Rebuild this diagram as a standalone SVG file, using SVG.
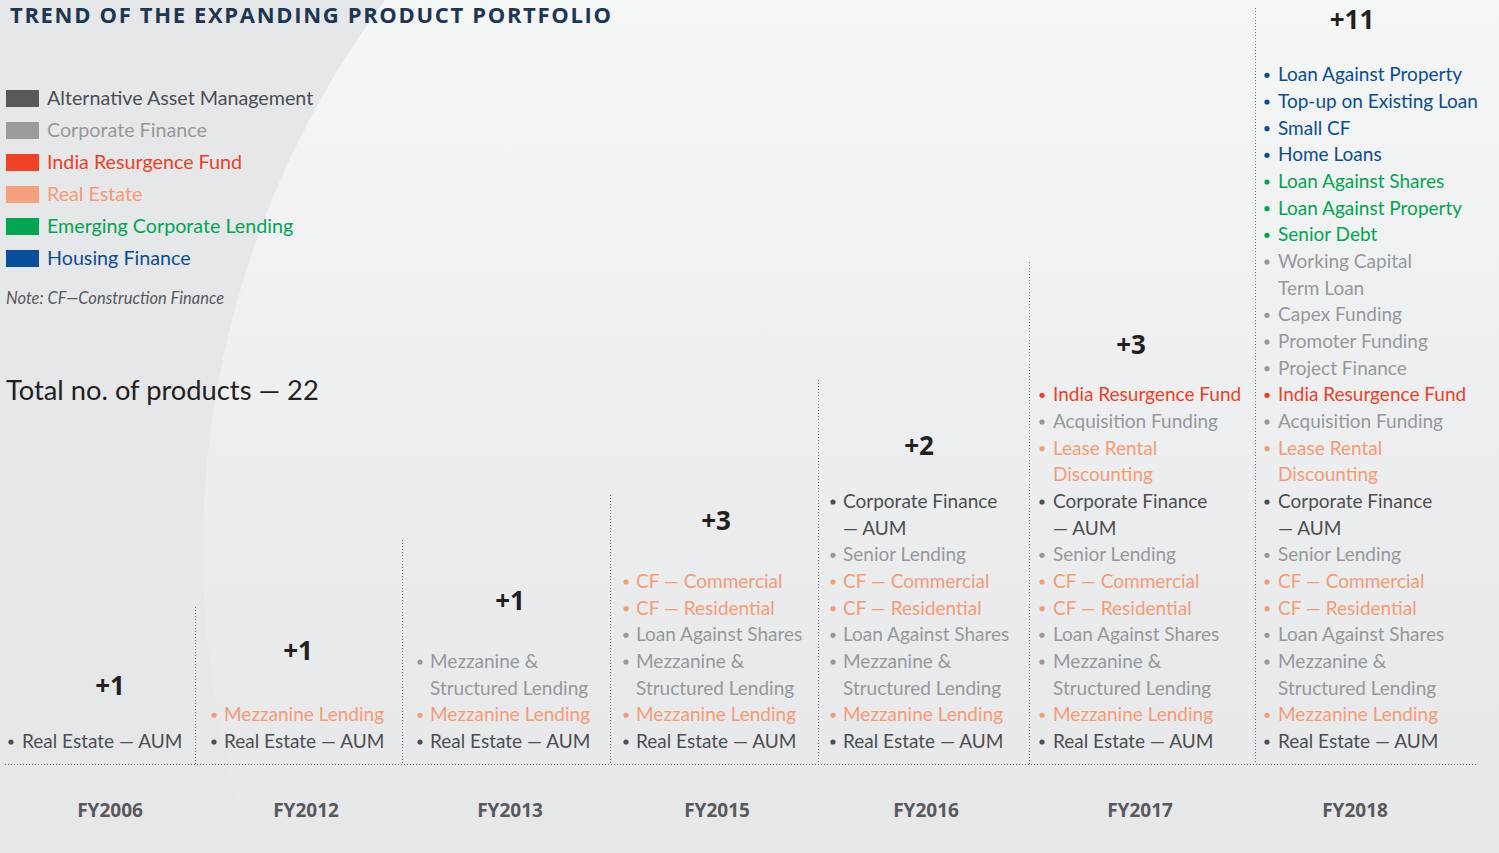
<svg xmlns="http://www.w3.org/2000/svg" width="1499" height="853" viewBox="0 0 1499 853">
<defs>
<linearGradient id="glow" x1="0" y1="0" x2="0" y2="1">
<stop offset="0" stop-color="#f5f6f6"/>
<stop offset="0.45" stop-color="#eeeff0"/>
<stop offset="0.85" stop-color="#e8e9eb"/>
<stop offset="1" stop-color="#e6e7e9"/>
</linearGradient>
<style>
.t{font-family:Lato,"Open Sans","Liberation Sans",sans-serif;font-size:19px}
.lg{font-size:19.7px}
.dk{fill:#4d4e50}.gy{fill:#97989b}.sa{fill:#f79b75}.rd{fill:#ee3f24}.gn{fill:#00a650}.bl{fill:#0b4c97}
.plus{font-family:"Open Sans","Liberation Sans",sans-serif;font-weight:700;font-size:26px;fill:#231f20;text-anchor:middle}
.fy{font-family:"Open Sans","Liberation Sans",sans-serif;font-weight:700;font-size:19px;fill:#58595b;text-anchor:middle}
.div{stroke:#6d6e70;stroke-width:1;stroke-dasharray:1 2;fill:none}
</style>
</defs>
<rect width="1499" height="853" fill="#e6e7e9"/>
<path d="M385 0 A922 922 0 0 0 254 853 L1499 853 L1499 0 Z" fill="url(#glow)"/>

<text x="10" y="23" textLength="603" lengthAdjust="spacing" style="font-family:'Open Sans','Liberation Sans',sans-serif;font-weight:700;font-size:22px;fill:#1d3652;letter-spacing:2px">TREND OF THE EXPANDING PRODUCT PORTFOLIO</text>

<g id="legend">
<rect x="6" y="90" width="33" height="17" fill="#58595b"/>
<text class="t lg dk" x="47" y="105">Alternative Asset Management</text>
<rect x="6" y="122" width="33" height="17" fill="#9a9b9d"/>
<text class="t lg gy" x="47" y="137">Corporate Finance</text>
<rect x="6" y="154" width="33" height="17" fill="#ef4123"/>
<text class="t lg rd" x="47" y="169">India Resurgence Fund</text>
<rect x="6" y="186" width="33" height="17" fill="#f7a07e"/>
<text class="t lg sa" x="47" y="201">Real Estate</text>
<rect x="6" y="218" width="33" height="17" fill="#00a651"/>
<text class="t lg gn" x="47" y="233">Emerging Corporate Lending</text>
<rect x="6" y="250" width="33" height="17" fill="#0a4f9c"/>
<text class="t lg bl" x="47" y="265">Housing Finance</text>
<text x="6" y="304" style="font-family:Lato,'Open Sans',sans-serif;font-style:italic;font-size:16.5px;fill:#58595b">Note: CF—Construction Finance</text>
</g>

<text x="6" y="400" style="font-family:Lato,'Open Sans',sans-serif;font-size:27.3px;fill:#231f20">Total no. of products — 22</text>

<g id="connectors">
<line class="div" x1="5" y1="764.5" x2="1478" y2="764.5"/>
<line class="div" x1="195.5" y1="607" x2="195.5" y2="764"/>
<line class="div" x1="402.5" y1="540" x2="402.5" y2="764"/>
<line class="div" x1="610.5" y1="495" x2="610.5" y2="764"/>
<line class="div" x1="818.5" y1="380" x2="818.5" y2="764"/>
<line class="div" x1="1029.5" y1="262" x2="1029.5" y2="764"/>
<line class="div" x1="1255.5" y1="8" x2="1255.5" y2="764"/>
</g>

<g id="fy2006">
<text class="plus" x="110" y="695">+1</text>
<circle class="dk" cx="11" cy="742" r="2.6"/><text class="t dk" x="22" y="748">Real Estate — AUM</text>
<text class="fy" x="110" y="817">FY2006</text>
</g>

<g id="fy2012">
<text class="plus" x="298" y="660">+1</text>
<circle class="sa" cx="214" cy="715.3" r="2.6"/><text class="t sa" x="224" y="721.3">Mezzanine Lending</text>
<circle class="dk" cx="214" cy="742" r="2.6"/><text class="t dk" x="224" y="748">Real Estate — AUM</text>
<text class="fy" x="306" y="817">FY2012</text>
</g>

<g id="fy2013">
<text class="plus" x="510" y="610">+1</text>
<circle class="gy" cx="420" cy="662" r="2.6"/><text class="t gy" x="430" y="668">Mezzanine &amp;</text>
<text class="t gy" x="430" y="694.7">Structured Lending</text>
<circle class="sa" cx="420" cy="715.3" r="2.6"/><text class="t sa" x="430" y="721.3">Mezzanine Lending</text>
<circle class="dk" cx="420" cy="742" r="2.6"/><text class="t dk" x="430" y="748">Real Estate — AUM</text>
<text class="fy" x="510" y="817">FY2013</text>
</g>

<g id="fy2015">
<text class="plus" x="716" y="530">+3</text>
<circle class="sa" cx="626" cy="582" r="2.6"/><text class="t sa" x="636" y="588">CF — Commercial</text>
<circle class="sa" cx="626" cy="608.7" r="2.6"/><text class="t sa" x="636" y="614.7">CF — Residential</text>
<circle class="gy" cx="626" cy="635.3" r="2.6"/><text class="t gy" x="636" y="641.3">Loan Against Shares</text>
<circle class="gy" cx="626" cy="662" r="2.6"/><text class="t gy" x="636" y="668">Mezzanine &amp;</text>
<text class="t gy" x="636" y="694.7">Structured Lending</text>
<circle class="sa" cx="626" cy="715.3" r="2.6"/><text class="t sa" x="636" y="721.3">Mezzanine Lending</text>
<circle class="dk" cx="626" cy="742" r="2.6"/><text class="t dk" x="636" y="748">Real Estate — AUM</text>
<text class="fy" x="717" y="817">FY2015</text>
</g>

<g id="fy2016">
<text class="plus" x="919" y="455">+2</text>
<circle class="dk" cx="833" cy="502" r="2.6"/><text class="t dk" x="843" y="508">Corporate Finance</text>
<text class="t dk" x="843" y="534.7">— AUM</text>
<circle class="gy" cx="833" cy="555.3" r="2.6"/><text class="t gy" x="843" y="561.3">Senior Lending</text>
<circle class="sa" cx="833" cy="582" r="2.6"/><text class="t sa" x="843" y="588">CF — Commercial</text>
<circle class="sa" cx="833" cy="608.7" r="2.6"/><text class="t sa" x="843" y="614.7">CF — Residential</text>
<circle class="gy" cx="833" cy="635.3" r="2.6"/><text class="t gy" x="843" y="641.3">Loan Against Shares</text>
<circle class="gy" cx="833" cy="662" r="2.6"/><text class="t gy" x="843" y="668">Mezzanine &amp;</text>
<text class="t gy" x="843" y="694.7">Structured Lending</text>
<circle class="sa" cx="833" cy="715.3" r="2.6"/><text class="t sa" x="843" y="721.3">Mezzanine Lending</text>
<circle class="dk" cx="833" cy="742" r="2.6"/><text class="t dk" x="843" y="748">Real Estate — AUM</text>
<text class="fy" x="926" y="817">FY2016</text>
</g>

<g id="fy2017">
<text class="plus" x="1131" y="354">+3</text>
<circle class="rd" cx="1042" cy="395.3" r="2.6"/><text class="t rd" x="1053" y="401.3">India Resurgence Fund</text>
<circle class="gy" cx="1042" cy="422" r="2.6"/><text class="t gy" x="1053" y="428">Acquisition Funding</text>
<circle class="sa" cx="1042" cy="448.7" r="2.6"/><text class="t sa" x="1053" y="454.7">Lease Rental</text>
<text class="t sa" x="1053" y="481.3">Discounting</text>
<circle class="dk" cx="1042" cy="502" r="2.6"/><text class="t dk" x="1053" y="508">Corporate Finance</text>
<text class="t dk" x="1053" y="534.7">— AUM</text>
<circle class="gy" cx="1042" cy="555.3" r="2.6"/><text class="t gy" x="1053" y="561.3">Senior Lending</text>
<circle class="sa" cx="1042" cy="582" r="2.6"/><text class="t sa" x="1053" y="588">CF — Commercial</text>
<circle class="sa" cx="1042" cy="608.7" r="2.6"/><text class="t sa" x="1053" y="614.7">CF — Residential</text>
<circle class="gy" cx="1042" cy="635.3" r="2.6"/><text class="t gy" x="1053" y="641.3">Loan Against Shares</text>
<circle class="gy" cx="1042" cy="662" r="2.6"/><text class="t gy" x="1053" y="668">Mezzanine &amp;</text>
<text class="t gy" x="1053" y="694.7">Structured Lending</text>
<circle class="sa" cx="1042" cy="715.3" r="2.6"/><text class="t sa" x="1053" y="721.3">Mezzanine Lending</text>
<circle class="dk" cx="1042" cy="742" r="2.6"/><text class="t dk" x="1053" y="748">Real Estate — AUM</text>
<text class="fy" x="1140" y="817">FY2017</text>
</g>

<g id="fy2018">
<text class="plus" x="1352" y="29">+11</text>
<circle class="bl" cx="1267" cy="75.3" r="2.6"/><text class="t bl" x="1278" y="81.3">Loan Against Property</text>
<circle class="bl" cx="1267" cy="102" r="2.6"/><text class="t bl" x="1278" y="108">Top-up on Existing Loan</text>
<circle class="bl" cx="1267" cy="128.7" r="2.6"/><text class="t bl" x="1278" y="134.7">Small CF</text>
<circle class="bl" cx="1267" cy="155.3" r="2.6"/><text class="t bl" x="1278" y="161.3">Home Loans</text>
<circle class="gn" cx="1267" cy="182" r="2.6"/><text class="t gn" x="1278" y="188">Loan Against Shares</text>
<circle class="gn" cx="1267" cy="208.7" r="2.6"/><text class="t gn" x="1278" y="214.7">Loan Against Property</text>
<circle class="gn" cx="1267" cy="235.3" r="2.6"/><text class="t gn" x="1278" y="241.3">Senior Debt</text>
<circle class="gy" cx="1267" cy="262" r="2.6"/><text class="t gy" x="1278" y="268">Working Capital</text>
<text class="t gy" x="1278" y="294.7">Term Loan</text>
<circle class="gy" cx="1267" cy="315.3" r="2.6"/><text class="t gy" x="1278" y="321.3">Capex Funding</text>
<circle class="gy" cx="1267" cy="342" r="2.6"/><text class="t gy" x="1278" y="348">Promoter Funding</text>
<circle class="gy" cx="1267" cy="368.7" r="2.6"/><text class="t gy" x="1278" y="374.7">Project Finance</text>
<circle class="rd" cx="1267" cy="395.3" r="2.6"/><text class="t rd" x="1278" y="401.3">India Resurgence Fund</text>
<circle class="gy" cx="1267" cy="422" r="2.6"/><text class="t gy" x="1278" y="428">Acquisition Funding</text>
<circle class="sa" cx="1267" cy="448.7" r="2.6"/><text class="t sa" x="1278" y="454.7">Lease Rental</text>
<text class="t sa" x="1278" y="481.3">Discounting</text>
<circle class="dk" cx="1267" cy="502" r="2.6"/><text class="t dk" x="1278" y="508">Corporate Finance</text>
<text class="t dk" x="1278" y="534.7">— AUM</text>
<circle class="gy" cx="1267" cy="555.3" r="2.6"/><text class="t gy" x="1278" y="561.3">Senior Lending</text>
<circle class="sa" cx="1267" cy="582" r="2.6"/><text class="t sa" x="1278" y="588">CF — Commercial</text>
<circle class="sa" cx="1267" cy="608.7" r="2.6"/><text class="t sa" x="1278" y="614.7">CF — Residential</text>
<circle class="gy" cx="1267" cy="635.3" r="2.6"/><text class="t gy" x="1278" y="641.3">Loan Against Shares</text>
<circle class="gy" cx="1267" cy="662" r="2.6"/><text class="t gy" x="1278" y="668">Mezzanine &amp;</text>
<text class="t gy" x="1278" y="694.7">Structured Lending</text>
<circle class="sa" cx="1267" cy="715.3" r="2.6"/><text class="t sa" x="1278" y="721.3">Mezzanine Lending</text>
<circle class="dk" cx="1267" cy="742" r="2.6"/><text class="t dk" x="1278" y="748">Real Estate — AUM</text>
<text class="fy" x="1355" y="817">FY2018</text>
</g>
</svg>
